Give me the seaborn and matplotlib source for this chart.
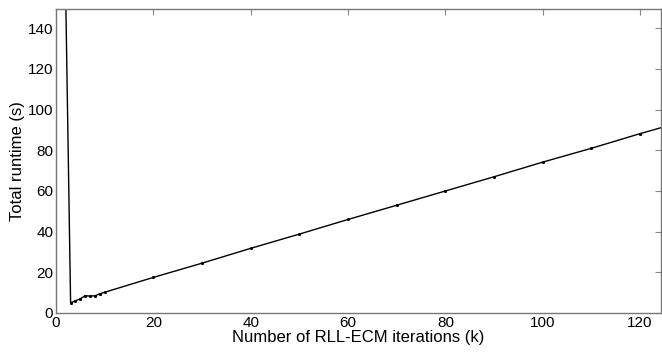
import numpy as np
import pandas as pd
import matplotlib
matplotlib.use("Agg")
import matplotlib.pyplot as plt
import seaborn as sns

# --- data ---
iteracoes = [2, 3, 4, 5, 6, 7, 8, 9, 10, 20, 30, 40, 50, 60, 70, 80, 90, 100, 110, 120, 125]
tempo_total = [155, 5.0, 6.0, 7.0, 8.5, 8.3, 8.5, 9.4, 10.2, 17.5, 24.5, 31.8, 38.8, 46.0,
               53.0, 60.0, 67.0, 74.2, 81.0, 88.2, 91.6]

df = pd.DataFrame({"k": iteracoes, "tempo": tempo_total})

sns.set_style("white")
plt.rcParams["font.family"] = ["Liberation Sans", "DejaVu Sans"]
plt.rcParams["text.color"] = "black"
plt.rcParams["axes.labelcolor"] = "black"
plt.rcParams["xtick.labelcolor"] = "black"
plt.rcParams["ytick.labelcolor"] = "black"

fig = plt.figure(figsize=(6.62, 3.54), dpi=100)
ax = fig.add_axes([56 / 662, 1 - 313 / 354, (661 - 56) / 662, (313 - 9) / 354])

sns.lineplot(data=df, x="k", y="tempo", ax=ax, color="black", linewidth=1.0,
             marker=".", markersize=3, markeredgecolor="black")

ax.set_xlim(0, 124.3)
ax.set_ylim(0, 149.5)
ax.set_xticks(np.arange(0, 121, 20))
ax.set_yticks(np.arange(0, 141, 20))
ax.tick_params(direction="in", top=True, right=True, length=4, width=0.8,
               color="#888888", labelcolor="black", labelsize=11, pad=2)
for s in ax.spines.values():
    s.set_color("#777777")
    s.set_linewidth(1.0)

ax.set_xlabel("Number of RLL-ECM iterations (k)", fontsize=12, labelpad=0, color="black")
ax.set_ylabel("Total runtime (s)", fontsize=12, labelpad=2, color="black")

fig.savefig("out.png", dpi=100)
